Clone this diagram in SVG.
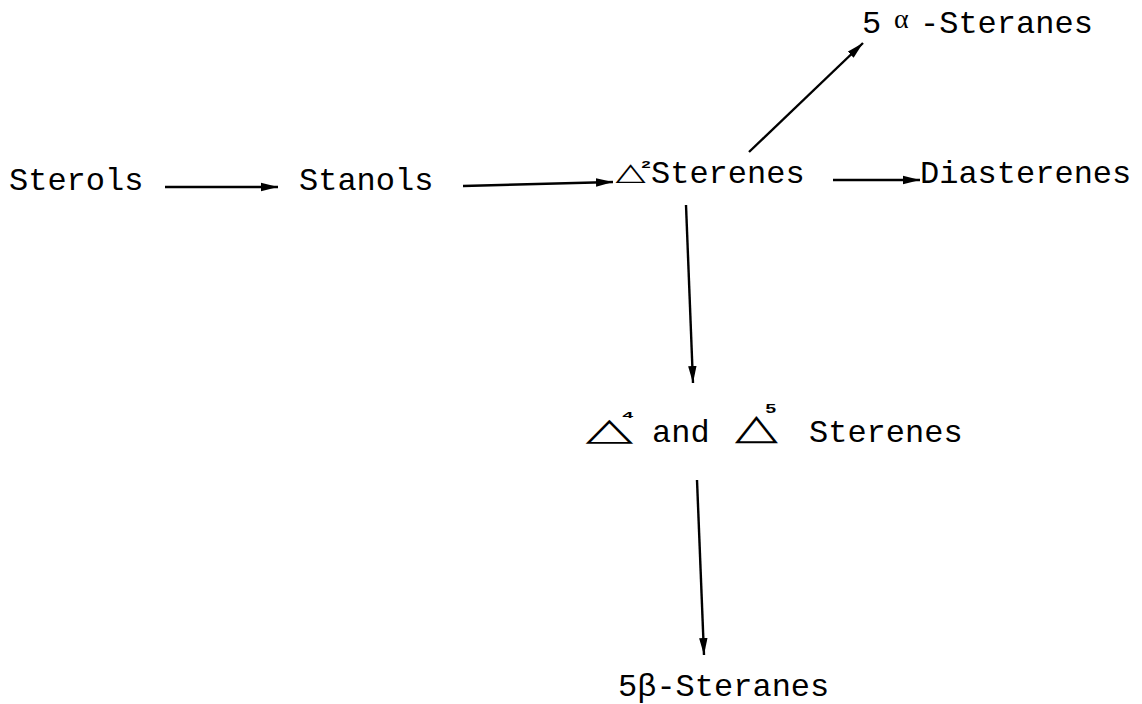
<svg xmlns="http://www.w3.org/2000/svg" width="1142" height="704" viewBox="0 0 1142 704">
<defs>
<style>
.t{font-family:"Liberation Mono","DejaVu Sans Mono",monospace;font-size:32px;fill:#000}
.d{font-family:"DejaVu Sans",sans-serif;fill:#000}
.s{font-family:"Liberation Mono","DejaVu Sans Mono",monospace;font-weight:bold;fill:#000}
.c{stroke:#000;stroke-width:2.4;fill:none}
</style>
<marker id="ah" markerUnits="userSpaceOnUse" markerWidth="18" markerHeight="10" refX="17" refY="5" orient="auto">
<path d="M0,0.8 L17,5 L0,9.2 z" fill="#000"/>
</marker>
</defs>
<rect width="1142" height="704" fill="#fff"/>
<g id="sterols"><text class="t" x="9" y="190">Sterols</text></g>
<g id="stanols"><text class="t" x="299" y="190">Stanols</text></g>
<g id="d2sterenes">
<text class="d" font-size="26" transform="translate(615.4,180.4) scale(1.51,0.95)"><tspan x="0" y="0">△</tspan><tspan class="s" font-size="11" x="17" y="-13">2</tspan></text>
<text class="t" x="651" y="183">Sterenes</text>
</g>
<g id="diasterenes"><text class="t" x="920" y="183">Diasterenes</text></g>
<g id="asteranes">
<text class="t" x="862" y="33">5</text>
<text font-family="Liberation Serif,serif" font-size="28" x="894" y="28">α</text>
<text class="t" x="920" y="33">-Steranes</text>
</g>
<g id="d45sterenes">
<text class="d" font-size="32" transform="translate(585.5,439.7) scale(1.94,0.98)"><tspan x="0" y="0">△</tspan><tspan class="s" font-size="10" x="18.8" y="-22.1">4</tspan></text>
<text class="t" x="652" y="442">and</text>
<text class="d" font-size="32" transform="translate(734.7,439.3) scale(1.76,1.11)"><tspan x="0" y="0">△</tspan><tspan class="s" font-size="11" x="17.2" y="-23.7">5</tspan></text>
<text class="t" x="809" y="442">Sterenes</text>
</g>
<g id="bsteranes"><text class="t" x="618" y="696">5β-Steranes</text></g>
<g id="connectors" class="c">
<line x1="165" y1="187" x2="278" y2="187" marker-end="url(#ah)"/>
<line x1="463" y1="186" x2="613" y2="182" marker-end="url(#ah)"/>
<line x1="833" y1="180" x2="920" y2="180" marker-end="url(#ah)"/>
<line x1="749" y1="152" x2="863" y2="43" marker-end="url(#ah)"/>
<line x1="686" y1="205" x2="693" y2="383" marker-end="url(#ah)"/>
<line x1="697" y1="480" x2="704" y2="655" marker-end="url(#ah)"/>
</g>
</svg>
